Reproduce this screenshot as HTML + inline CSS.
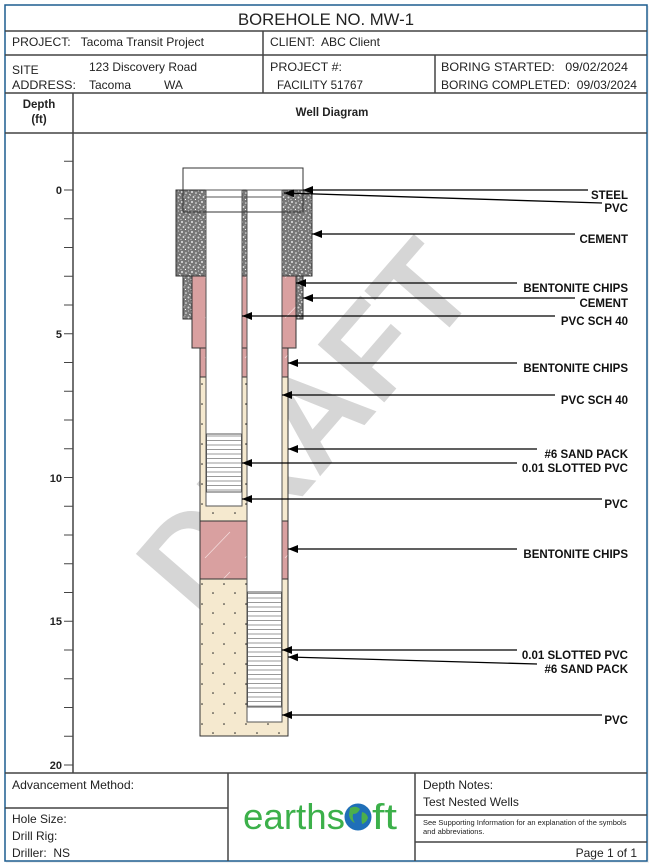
<!DOCTYPE html>
<html><head><meta charset="utf-8"><style>
html,body{margin:0;padding:0;background:#fff;}
svg{display:block;font-family:"Liberation Sans",Arial,sans-serif;}
</style></head><body>
<svg width="654" height="868" viewBox="0 0 654 868" xmlns="http://www.w3.org/2000/svg">
<defs>
<pattern id="cem" width="10" height="10" patternUnits="userSpaceOnUse">
<rect width="10" height="10" fill="#777"/>
<circle cx="2" cy="2" r="1" fill="#e4e4e4"/><circle cx="6" cy="3" r="0.8" fill="#f2f2f2"/>
<circle cx="8.5" cy="7.5" r="1" fill="#d6d6d6"/><circle cx="3.5" cy="7" r="0.9" fill="#eee"/>
<circle cx="8.5" cy="1" r="0.6" fill="#ccc"/><circle cx="1" cy="9.5" r="0.6" fill="#ddd"/>
<circle cx="5.5" cy="9.5" r="0.6" fill="#fff"/><circle cx="9.5" cy="4.5" r="0.6" fill="#ddd"/>
<circle cx="5" cy="5.5" r="0.6" fill="#bbb"/><circle cx="0.5" cy="5" r="0.6" fill="#eee"/>
</pattern>
<pattern id="ben" width="40" height="40" patternUnits="userSpaceOnUse">
<rect width="40" height="40" fill="#d9a0a0"/>
<line x1="5" y1="38" x2="30" y2="12" stroke="#f4dcdc" stroke-width="0.8"/>
</pattern>
<pattern id="sand" width="22" height="20" patternUnits="userSpaceOnUse">
<rect width="22" height="20" fill="#f5e9cf"/>
<circle cx="4" cy="4" r="0.8" fill="#222"/><circle cx="15" cy="13" r="0.8" fill="#222"/>
</pattern>
<pattern id="scr" width="10" height="4.5" patternUnits="userSpaceOnUse">
<rect width="10" height="4.5" fill="#fff"/><line x1="0" y1="4" x2="10" y2="4" stroke="#999" stroke-width="1"/>
</pattern>
<marker id="ah" markerWidth="10" markerHeight="8" refX="0" refY="4" orient="auto" markerUnits="userSpaceOnUse">
<path d="M0,4 L10,0 L10,8 Z" fill="#000"/>
</marker>
</defs>
<rect x="6" y="6" width="643" height="857" fill="#e6e6e6" opacity="0.6"/>
<rect x="5" y="5" width="642" height="856" fill="#fff" stroke="#1d5d8f" stroke-width="1.5"/>
<g stroke="#444" stroke-width="1.5" fill="none">
<line x1="5" y1="31" x2="647" y2="31"/>
<line x1="5" y1="55" x2="647" y2="55"/>
<line x1="5" y1="93" x2="647" y2="93"/>
<line x1="5" y1="133" x2="647" y2="133"/>
<line x1="263" y1="31" x2="263" y2="93"/>
<line x1="435" y1="55" x2="435" y2="93"/>
<line x1="73" y1="93" x2="73" y2="773"/>
<line x1="5" y1="773" x2="647" y2="773"/>
<line x1="228" y1="773" x2="228" y2="861"/>
<line x1="415" y1="773" x2="415" y2="861"/>
<line x1="5" y1="808" x2="228" y2="808"/>
<line x1="415" y1="815" x2="647" y2="815"/>
<line x1="415" y1="842" x2="647" y2="842"/>
</g>
<g font-size="12" fill="#222">
<text x="326" y="25" font-size="16.5" text-anchor="middle" textLength="176" lengthAdjust="spacingAndGlyphs">BOREHOLE NO.  MW-1</text>
<text x="12" y="46" xml:space="preserve" textLength="192" lengthAdjust="spacingAndGlyphs">PROJECT:   Tacoma Transit Project</text>
<text x="270" y="46" xml:space="preserve" textLength="110" lengthAdjust="spacingAndGlyphs">CLIENT:  ABC Client</text>
<text x="12" y="74">SITE</text>
<text x="12" y="89" textLength="64" lengthAdjust="spacingAndGlyphs">ADDRESS:</text>
<text x="89" y="71" textLength="108" lengthAdjust="spacingAndGlyphs">123 Discovery Road</text>
<text x="89" y="89">Tacoma</text><text x="164" y="89">WA</text>
<text x="270" y="71" textLength="72" lengthAdjust="spacingAndGlyphs">PROJECT #:</text>
<text x="277" y="89" textLength="86" lengthAdjust="spacingAndGlyphs">FACILITY 51767</text>
<text x="441" y="71" xml:space="preserve" textLength="187" lengthAdjust="spacingAndGlyphs">BORING STARTED:   09/02/2024</text>
<text x="441" y="89" xml:space="preserve" textLength="196" lengthAdjust="spacingAndGlyphs">BORING COMPLETED:  09/03/2024</text>
<text x="39" y="108" font-weight="bold" font-size="11.5" text-anchor="middle">Depth</text>
<text x="39" y="123" font-weight="bold" font-size="11.5" text-anchor="middle">(ft)</text>
<text x="332" y="116" font-weight="bold" font-size="11.5" text-anchor="middle">Well Diagram</text>
</g>
<g stroke="#444" stroke-width="1">
<line x1="64" y1="161.25" x2="73" y2="161.25"/><line x1="64" y1="190" x2="73" y2="190"/><line x1="64" y1="218.75" x2="73" y2="218.75"/><line x1="64" y1="247.5" x2="73" y2="247.5"/><line x1="64" y1="276.25" x2="73" y2="276.25"/><line x1="64" y1="305" x2="73" y2="305"/><line x1="64" y1="333.75" x2="73" y2="333.75"/><line x1="64" y1="362.5" x2="73" y2="362.5"/><line x1="64" y1="391.25" x2="73" y2="391.25"/><line x1="64" y1="420" x2="73" y2="420"/><line x1="64" y1="448.75" x2="73" y2="448.75"/><line x1="64" y1="477.5" x2="73" y2="477.5"/><line x1="64" y1="506.25" x2="73" y2="506.25"/><line x1="64" y1="535" x2="73" y2="535"/><line x1="64" y1="563.75" x2="73" y2="563.75"/><line x1="64" y1="592.5" x2="73" y2="592.5"/><line x1="64" y1="621.25" x2="73" y2="621.25"/><line x1="64" y1="650" x2="73" y2="650"/><line x1="64" y1="678.75" x2="73" y2="678.75"/><line x1="64" y1="707.5" x2="73" y2="707.5"/><line x1="64" y1="736.25" x2="73" y2="736.25"/><line x1="64" y1="765" x2="73" y2="765"/>
</g>
<g font-size="11" font-weight="bold" text-anchor="end" fill="#222">
<text x="62" y="194">0</text><text x="62" y="338">5</text><text x="62" y="482">10</text><text x="62" y="625">15</text><text x="62" y="769">20</text>
</g>
<text x="305" y="470" font-size="128" font-weight="bold" fill="#d6d6d6" text-anchor="middle" transform="rotate(-49 305 425)">DRAFT</text>
<g stroke="#333" stroke-width="1">
<rect x="176" y="190" width="136" height="86" fill="url(#cem)"/>
<rect x="183" y="276" width="120" height="43" fill="url(#cem)"/>
<rect x="192" y="276" width="104" height="72" fill="url(#ben)"/>
<rect x="200" y="348" width="88" height="29" fill="url(#ben)"/>
<rect x="200" y="377" width="88" height="144" fill="url(#sand)"/>
<rect x="200" y="521" width="88" height="58" fill="url(#ben)"/>
<rect x="200" y="579" width="88" height="157" fill="url(#sand)"/>
</g>
<g stroke="#555" stroke-width="1">
<rect x="206" y="190" width="36" height="316" fill="#fff"/>
<rect x="206.5" y="434" width="35" height="58" fill="url(#scr)"/>
<rect x="247" y="190" width="35" height="532" fill="#fff"/>
<rect x="247.5" y="592" width="34" height="115" fill="url(#scr)"/>
<line x1="206" y1="197" x2="282" y2="197"/>
<line x1="206" y1="434" x2="242" y2="434"/><line x1="206" y1="492" x2="242" y2="492"/>
<line x1="247" y1="592" x2="282" y2="592"/><line x1="247" y1="707" x2="282" y2="707"/>
</g>
<rect x="183" y="168" width="120" height="44" fill="none" stroke="#333" stroke-width="1"/>
<g stroke="#000" stroke-width="1.3" fill="none" marker-start="url(#ah)">
<line x1="303" y1="190" x2="588" y2="190"/>
<line x1="284" y1="193" x2="602" y2="203"/>
<line x1="312" y1="234" x2="575" y2="234"/>
<line x1="296" y1="283" x2="517" y2="283"/>
<line x1="303" y1="298" x2="575" y2="298"/>
<line x1="242" y1="316" x2="555" y2="316"/>
<line x1="288" y1="363" x2="517" y2="363"/>
<line x1="282" y1="395" x2="555" y2="395"/>
<line x1="288" y1="449" x2="537" y2="449"/>
<line x1="242" y1="463" x2="517" y2="463"/>
<line x1="242" y1="499" x2="602" y2="499"/>
<line x1="288" y1="549" x2="517" y2="549"/>
<line x1="282" y1="650" x2="517" y2="650"/>
<line x1="288" y1="657" x2="537" y2="664"/>
<line x1="282" y1="715" x2="602" y2="715"/>
</g>
<g font-size="11.5" font-weight="bold" text-anchor="end" fill="#111">
<text x="628" y="199">STEEL</text>
<text x="628" y="212">PVC</text>
<text x="628" y="243">CEMENT</text>
<text x="628" y="292">BENTONITE CHIPS</text>
<text x="628" y="307">CEMENT</text>
<text x="628" y="325">PVC SCH 40</text>
<text x="628" y="372">BENTONITE CHIPS</text>
<text x="628" y="404">PVC SCH 40</text>
<text x="628" y="458">#6 SAND PACK</text>
<text x="628" y="472">0.01 SLOTTED PVC</text>
<text x="628" y="508">PVC</text>
<text x="628" y="558">BENTONITE CHIPS</text>
<text x="628" y="659">0.01 SLOTTED PVC</text>
<text x="628" y="673">#6 SAND PACK</text>
<text x="628" y="724">PVC</text>
</g>
<g font-size="12" fill="#222">
<text x="12" y="789" textLength="122" lengthAdjust="spacingAndGlyphs">Advancement Method:</text>
<text x="12" y="823">Hole Size:</text>
<text x="12" y="840">Drill Rig:</text>
<text x="12" y="857" xml:space="preserve">Driller:  NS</text>
<text x="423" y="789">Depth Notes:</text>
<text x="423" y="806">Test Nested Wells</text>
<text x="423" y="825" font-size="7.5">See Supporting Information for an explanation of the symbols</text>
<text x="423" y="834" font-size="7.5">and abbreviations.</text>
<text x="637" y="857" text-anchor="end">Page 1 of 1</text>
</g>
<text x="243" y="829" font-size="36" fill="#3cb04a" textLength="102" lengthAdjust="spacingAndGlyphs">earths</text>
<circle cx="358" cy="817" r="13.5" fill="#1f6fb8"/>
<path d="M350,808 q6,-3 10,1 q-2,5 -7,5 q-1,5 2,9 q-5,-2 -6,-8 z M362,812 q5,1 6,6 q-2,5 -6,6 q-1,-6 0,-12 z" fill="#4cae4c"/>
<text x="372" y="829" font-size="36" fill="#3cb04a" textLength="25" lengthAdjust="spacingAndGlyphs">ft</text>
</svg>
</body></html>
